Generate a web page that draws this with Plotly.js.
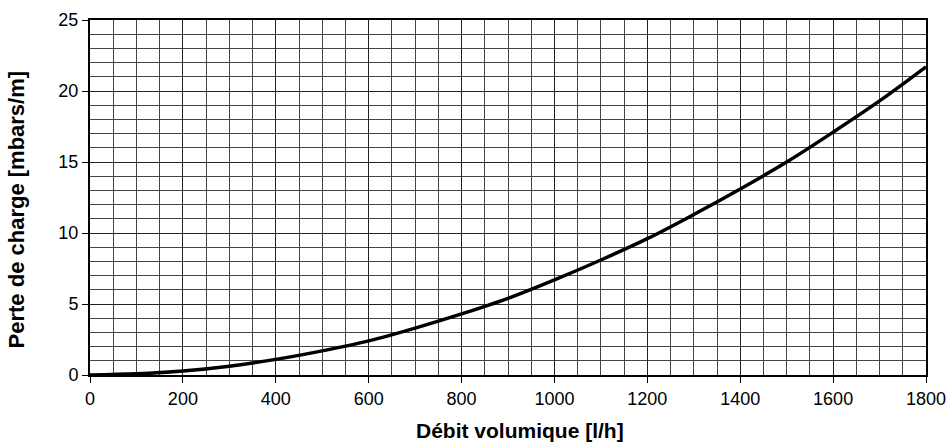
<!DOCTYPE html>
<html>
<head>
<meta charset="utf-8">
<script src="https://cdn.plot.ly/plotly-3.0.1.min.js"></script>
<style>html,body{margin:0;padding:0;background:#fff;}#chart{width:947px;height:443px;}</style>
</head>
<body>
<div id="chart"></div>
<script>
const debit = [0,100,200,300,400,500,600,700,800,900,1000,1100,1200,1300,1400,1500,1600,1700,1800];
const perte = [0,0.08,0.28,0.62,1.1,1.7,2.4,3.3,4.3,5.4,6.7,8.1,9.6,11.3,13.1,15.0,17.1,19.3,21.7];
const xTitle = "Débit volumique [l/h]";
const yTitle = "Perte de charge [mbars/m]";

const font = "Liberation Sans, Arial, sans-serif";
Plotly.newPlot("chart", [{
  x: debit, y: perte, type: "scatter", mode: "lines",
  line: {color: "#000", width: 3.5, shape: "spline"},
  hoverinfo: "skip", cliponaxis: true
}], {
  width: 947, height: 443,
  margin: {l: 90, r: 21, t: 20, b: 68},
  paper_bgcolor: "#fff", plot_bgcolor: "#fff",
  showlegend: false,
  font: {family: font, color: "#000", size: 18},
  xaxis: {
    range: [0, 1800], dtick: 200, tick0: 0,
    showgrid: true, gridcolor: "#222", gridwidth: 1,
    minor: {dtick: 50, showgrid: true, gridcolor: "#444", gridwidth: 1},
    ticks: "outside", ticklen: 6, tickcolor: "#000",
    showline: true, linecolor: "#000", linewidth: 2, mirror: true,
    zeroline: false,
    tickfont: {family: font, size: 18}
  },
  yaxis: {
    range: [0, 25], dtick: 5, tick0: 0,
    showgrid: true, gridcolor: "#222", gridwidth: 1,
    minor: {dtick: 1, showgrid: true, gridcolor: "#444", gridwidth: 1},
    ticks: "outside", ticklen: 6, tickcolor: "#000",
    showline: true, linecolor: "#000", linewidth: 2, mirror: true,
    zeroline: false,
    tickfont: {family: font, size: 18}
  },
  annotations: [
    {text: xTitle, xref: "paper", yref: "paper", x: 0.514, y: -0.155,
     xanchor: "center", yanchor: "middle", showarrow: false,
     font: {family: font, size: 21, weight: "bold", color: "#000"}},
    {text: yTitle, xref: "paper", yref: "paper", x: -0.0879, y: 0.465,
     xanchor: "center", yanchor: "middle", showarrow: false, textangle: -90,
     font: {family: font, size: 22, weight: "bold", color: "#000"}}
  ]
}, {displayModeBar: false, staticPlot: true});
</script>
</body>
</html>
